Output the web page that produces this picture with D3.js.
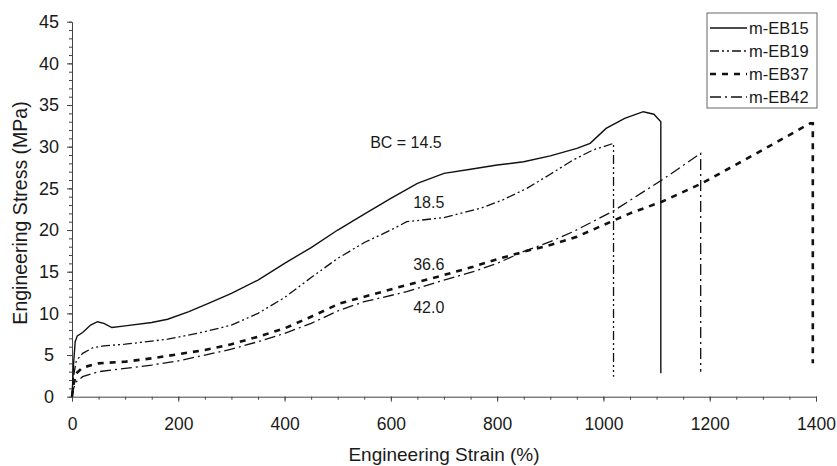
<!DOCTYPE html>
<html>
<head>
<meta charset="utf-8">
<script src="https://cdn.jsdelivr.net/npm/d3@7"></script>
<style>
  body { margin: 0; background: #fff; }
  svg text { font-family: "Liberation Sans", Arial, sans-serif; fill: #1a1a1a; }
</style>
</head>
<body>
<div id="wrapper"></div>
<script>
// strain (%), stress (MPa)
const eb15 = [[0,0],[3,4],[6,6.6],[10,7.3],[20,7.7],[35,8.6],[48,9.0],[60,8.8],[75,8.3],[100,8.5],[150,8.9],[180,9.3],[220,10.2],[260,11.3],[300,12.4],[350,14],[400,16],[450,17.9],[500,20],[550,21.9],[600,23.8],[650,25.6],[700,26.8],[750,27.3],[800,27.8],[850,28.2],[900,28.9],[950,29.8],[975,30.4],[1005,32.2],[1040,33.4],[1075,34.2],[1095,33.9],[1108,33],[1108,2.8]]
const eb19 = [[0,0],[3,2.5],[8,4.3],[20,5.2],[40,5.9],[60,6.1],[100,6.3],[180,6.9],[250,7.8],[300,8.6],[350,10],[400,11.9],[450,14.3],[500,16.6],[550,18.5],[600,20],[630,21],[700,21.5],[768,22.6],[810,23.6],[856,25],[900,26.7],[943,28.4],[980,29.6],[1019,30.4],[1019,2.4]]
const eb37 = [[0,0],[3,1.5],[8,2.8],[20,3.5],[50,4.0],[100,4.2],[150,4.6],[200,5.1],[250,5.6],[300,6.3],[350,7.2],[400,8.2],[450,9.6],[504,11.2],[550,12],[630,13.4],[700,14.6],[755,15.6],[800,16.5],[850,17.4],[900,18.2],[950,19.2],[1000,20.6],[1050,22],[1110,23.4],[1185,25.6],[1288,29.2],[1389,32.8],[1394,32.8],[1394,4.0]]
const eb42 = [[0,0],[3,1.0],[8,1.8],[20,2.4],[50,3.0],[100,3.4],[150,3.8],[200,4.3],[250,5.0],[300,5.7],[350,6.6],[400,7.6],[450,8.8],[504,10.4],[550,11.4],[630,12.6],[700,14],[755,15],[800,16],[849,17.4],[900,18.6],[943,19.8],[1019,22.3],[1110,26],[1183,29.2],[1183,3.0]]

const seriesNames = ["m-EB15", "m-EB19", "m-EB37", "m-EB42"]
const seriesData = [eb15, eb19, eb37, eb42]

const annoText = ["BC = 14.5", "18.5", "36.6", "42.0"]
const annoStrain = [561, 642, 642, 642]
const annoStress = [29.9, 22.7, 15.2, 10.0]

const xTicks = [0, 200, 400, 600, 800, 1000, 1200, 1400]
const yTicks = [0, 5, 10, 15, 20, 25, 30, 35, 40, 45]

const dashes = ["none", "9,3,2,3,2,3", "6,6", "11,4,2,4"]
const widths = [1.4, 1.3, 2.6, 1.3]

const dimensions = {
    width: 837,
    height: 466,
    margin: { top: 21.7, right: 21, bottom: 69.3, left: 72 }
}
dimensions.boundedWidth = dimensions.width - dimensions.margin.left - dimensions.margin.right
dimensions.boundedHeight = dimensions.height - dimensions.margin.top - dimensions.margin.bottom

const wrapper = d3.select("#wrapper")
    .append("svg")
        .attr("width", dimensions.width)
        .attr("height", dimensions.height)

const bounds = wrapper.append("g")
    .attr("transform", `translate(${dimensions.margin.left},${dimensions.margin.top})`)

const xScale = d3.scaleLinear()
    .domain([0, 1400])
    .range([0, dimensions.boundedWidth])

const yScale = d3.scaleLinear()
    .domain([0, 45])
    .range([dimensions.boundedHeight, 0])

// minor ticks
bounds.append("g")
    .attr("transform", `translate(0,${dimensions.boundedHeight})`)
    .call(d3.axisBottom(xScale).tickValues(d3.range(0, 1401, 50)).tickSize(3).tickFormat(""))
    .call(g => g.select(".domain").remove())
    .selectAll("line").attr("stroke", "#555")

bounds.append("g")
    .call(d3.axisLeft(yScale).tickValues(d3.range(0, 46, 1)).tickSize(3).tickFormat(""))
    .call(g => g.select(".domain").remove())
    .selectAll("line").attr("stroke", "#555")

// major axes
const xAxis = bounds.append("g")
    .attr("transform", `translate(0,${dimensions.boundedHeight})`)
    .call(d3.axisBottom(xScale).tickValues(xTicks).tickFormat(d3.format("d"))
        .tickSize(5).tickPadding(15.5).tickSizeOuter(0))
xAxis.selectAll("text").style("font-size", "17.5px")

const yAxis = bounds.append("g")
    .call(d3.axisLeft(yScale).tickValues(yTicks).tickSize(5).tickSizeOuter(0))
yAxis.selectAll("text")
    .attr("x", -23)
    .attr("text-anchor", "middle")
    .style("font-size", "18px")

bounds.selectAll(".domain, .tick line").attr("stroke", "#444")

// curves
const lineGenerator = d3.line()
    .x(d => xScale(d[0]))
    .y(d => yScale(d[1]))

bounds.selectAll(".series")
    .data(seriesData)
    .join("path")
        .attr("class", "series")
        .attr("d", lineGenerator)
        .attr("fill", "none")
        .attr("stroke", "#111")
        .attr("stroke-width", (d, i) => widths[i])
        .attr("stroke-dasharray", (d, i) => dashes[i])

// BC annotations
bounds.selectAll(".anno")
    .data(annoText)
    .join("text")
        .attr("class", "anno")
        .attr("x", (d, i) => xScale(annoStrain[i]))
        .attr("y", (d, i) => yScale(annoStress[i]))
        .style("font-size", "16px")
        .text(d => d)

// axis titles
wrapper.append("text")
    .attr("x", dimensions.margin.left + dimensions.boundedWidth / 2)
    .attr("y", 461)
    .attr("text-anchor", "middle")
    .style("font-size", "19px")
    .text("Engineering Strain (%)")

wrapper.append("text")
    .attr("transform", `translate(27,213) rotate(-90)`)
    .attr("text-anchor", "middle")
    .style("font-size", "19.5px")
    .text("Engineering Stress (MPa)")

// legend
const legend = wrapper.append("g")

legend.append("rect")
    .attr("x", 707)
    .attr("y", 13)
    .attr("width", 110)
    .attr("height", 95)
    .attr("fill", "#fff")
    .attr("stroke", "#666")

const rows = legend.selectAll(".row")
    .data(seriesNames)
    .join("g")
        .attr("class", "row")
        .attr("transform", (d, i) => `translate(0,${28 + i * 23})`)

rows.append("line")
    .attr("x1", 710)
    .attr("x2", 747)
    .attr("stroke", "#111")
    .attr("stroke-width", (d, i) => widths[i])
    .attr("stroke-dasharray", (d, i) => dashes[i])

rows.append("text")
    .attr("x", 749)
    .attr("dy", "0.35em")
    .style("font-size", "16.5px")
    .text(d => d)
</script>
</body>
</html>
